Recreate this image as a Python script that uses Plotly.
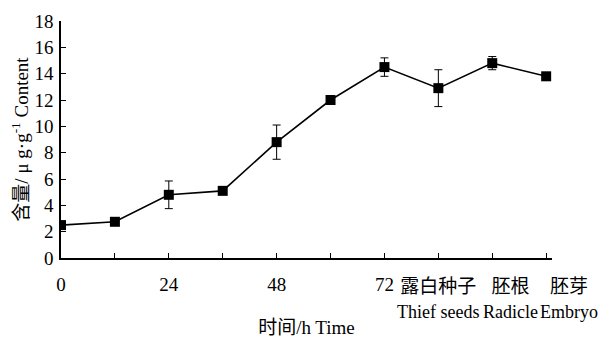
import plotly.graph_objects as go

# Data
hours = [0, 12, 24, 36, 48, 60, 72, 84, 96, 108]
content = [2.5, 2.75, 4.8, 5.1, 8.8, 12.0, 14.5, 12.9, 14.8, 13.8]
err = [0.15, 0.1, 1.05, 0.15, 1.3, 0.1, 0.7, 1.4, 0.5, 0.1]

major_ticks = [0, 24, 48, 72]
major_labels = ["0", "24", "48", "72"]
minor_ticks = [12, 36, 60, 84, 96, 108]

cat_pos = [84, 96, 108]
cat_zh = ["露白种子", "胚根", "胚芽"]
cat_en = ["Thief seeds", "Radicle", "Embryo"]
cat_shift = [0, 18, 23]

FONT = "Liberation Serif, Times New Roman, Noto Sans CJK SC, serif"
FS = 19

fig = go.Figure()
fig.add_trace(go.Scatter(
    x=hours, y=content,
    mode="lines+markers",
    line=dict(color="black", width=1.6),
    marker=dict(symbol="square", size=10, color="black"),
    error_y=dict(type="data", array=err, visible=True, color="black", thickness=1, width=4),
    showlegend=False,
))

for x, zh, en, s in zip(cat_pos, cat_zh, cat_en, cat_shift):
    fig.add_annotation(
        x=x, y=0, xref="x", yref="paper",
        text=f"{zh}<br><span style='font-size:18px'>{en}</span>",
        showarrow=False, xanchor="center", yanchor="top",
        yshift=-16, xshift=s,
        font=dict(family=FONT, size=FS, color="black"),
    )

# page has an 8px body margin, so the figure is sized/offset to compensate
fig.update_layout(
    width=602, height=330,
    margin=dict(l=53, r=58, t=13, b=80),
    paper_bgcolor="white", plot_bgcolor="white",
    font=dict(family=FONT, size=FS, color="black"),
)
fig.update_xaxes(
    range=[0, 109.3], automargin=False,
    tickmode="array", tickvals=major_ticks, ticktext=major_labels,
    ticks="inside", ticklen=5, tickwidth=1.2, tickcolor="black",
    ticklabelstandoff=8,
    minor=dict(tickmode="array", tickvals=minor_ticks, ticks="inside", ticklen=5, tickwidth=1.2, tickcolor="black", showgrid=False),
    showline=True, linecolor="black", linewidth=1.5,
    showgrid=False, zeroline=False,
    title=dict(text="时间/h Time", font=dict(family=FONT, size=FS), standoff=42),
)
fig.update_yaxes(
    range=[0, 18], dtick=2, automargin=False,
    ticks="inside", ticklen=5, tickwidth=1.2, tickcolor="black",
    ticklabelstandoff=2,
    showline=True, linecolor="black", linewidth=1.5,
    showgrid=False, zeroline=False,
    title=dict(text="含量/ μ g·g<sup>-1</sup> Content", font=dict(family=FONT, size=FS), standoff=2),
)

fig.write_html("out.html")
